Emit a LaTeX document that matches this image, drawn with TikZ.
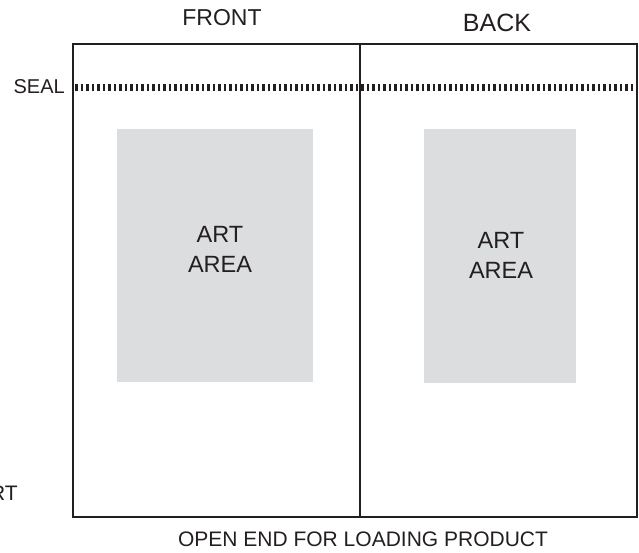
\documentclass[tikz,border=0pt]{standalone}
\usepackage{fontspec}
\setmainfont{Liberation Sans}
\definecolor{ink}{RGB}{35,31,32}
\definecolor{artgray}{RGB}{220,221,222}
\begin{document}
\begin{tikzpicture}[x=1pt,y=-1pt,
  lbl/.style={inner sep=0pt,text=ink,anchor=base},
  frame/.style={draw=ink,line width=2.2pt},
  art/.style={fill=artgray,draw=none},
  sealline/.style={draw=ink,line width=7pt,dash pattern=on 2.6pt off 2.9pt}]
\useasboundingbox (0,0) rectangle (639,552);
\fill[art] (117,129) rectangle (313,382);
\fill[art] (424,129) rectangle (576,383);
\coordinate (s1) at (75,87);
\coordinate (s2) at (634,87);
\draw[sealline] (s1) -- (s2);
\draw[frame] (73,44) rectangle (637,517);
\coordinate (m1) at (360,44);
\coordinate (m2) at (360,517);
\draw[frame] (m1) -- (m2);
\node[lbl] (front) at (222,25) {\fontsize{23}{28}\selectfont FRONT};
\node[lbl] (back) at (497,31) {\fontsize{25}{30}\selectfont BACK};
\node[lbl,anchor=base east] (seal) at (65,93) {\fontsize{20}{24}\selectfont SEAL};
\node[lbl] (art1a) at (220,242) {\fontsize{23.5}{30}\selectfont ART};
\node[lbl] (art1b) at (220,272) {\fontsize{23.5}{30}\selectfont AREA};
\node[lbl] (art2a) at (501,248) {\fontsize{23.5}{30}\selectfont ART};
\node[lbl] (art2b) at (501,278) {\fontsize{23.5}{30}\selectfont AREA};
\node[lbl] (open) at (363,546) {\fontsize{21}{25}\selectfont OPEN END FOR LOADING PRODUCT};
\node[lbl,anchor=base east] (rt) at (18,500) {\fontsize{21}{25}\selectfont RT};
\end{tikzpicture}
\end{document}
